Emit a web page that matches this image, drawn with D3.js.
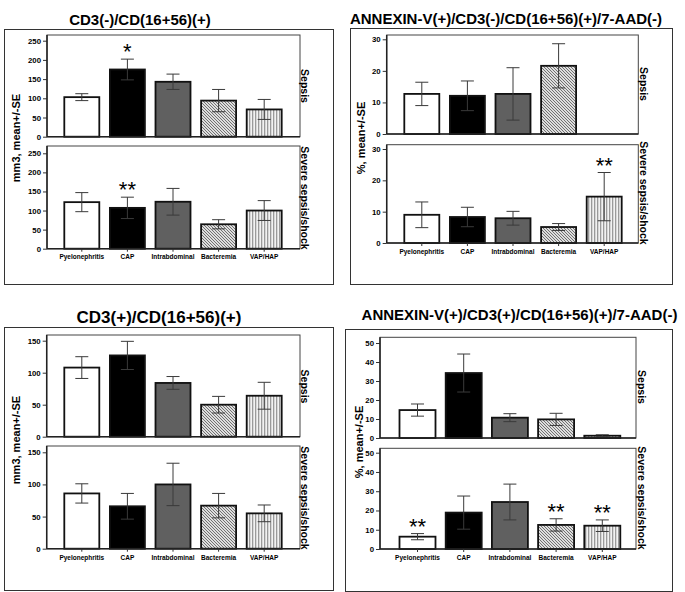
<!DOCTYPE html>
<html><head><meta charset="utf-8">
<script src="https://cdn.jsdelivr.net/npm/d3@7"></script>
<style>body{margin:0;background:#fff} svg{display:block} text{font-family:"Liberation Sans",Arial,sans-serif;fill:#000}</style>
</head><body><svg id="c" width="685" height="592"></svg>
<script>
// ---------------- data ----------------
const categories = ["Pyelonephritis","CAP","Intrabdominal","Bacteremia","VAP/HAP"];

const p1Ticks = [0,50,100,150,200,250];
const p1SepsisMean  = [103, 175, 143, 94, 71];
const p1SepsisSE    = [9, 27, 20, 29, 26];
const p1SevereMean  = [122, 107, 123, 64, 100];
const p1SevereSE    = [25, 28, 35, 12, 26];
const p1SepsisStars = [{cat:"CAP", mark:"*"}];
const p1SevereStars = [{cat:"CAP", mark:"**"}];

const p2Ticks = [0,10,20,30];
const p2SepsisMean  = [12.7, 12.1, 12.7, 21.6, null];
const p2SepsisSE    = [3.7, 4.7, 8.3, 7.0, null];
const p2SevereMean  = [9.0, 8.3, 7.9, 5.1, 14.8];
const p2SevereSE    = [4.1, 3.1, 2.2, 1.1, 7.7];
const p2SepsisStars = [];
const p2SevereStars = [{cat:"VAP/HAP", mark:"**"}];

const p3Ticks = [0,50,100,150];
const p3SepsisMean  = [108, 127, 84, 50, 64];
const p3SepsisSE    = [17, 22, 10, 13, 21];
const p3SevereMean  = [86, 66, 100, 67, 55];
const p3SevereSE    = [15, 20, 33, 19, 13];
const p3SepsisStars = [];
const p3SevereStars = [];

const p4Ticks = [0,10,20,30,40,50];
const p4SepsisMean  = [14.7, 34.2, 10.7, 9.8, 1.2];
const p4SepsisSE    = [3.2, 10.0, 2.1, 3.2, 0.5];
const p4SevereMean  = [6.4, 18.9, 24.4, 12.5, 12.1];
const p4SevereSE    = [1.6, 8.6, 9.3, 3.2, 3.0];
const p4SepsisStars = [];
const p4SevereStars = [{cat:"Pyelonephritis", mark:"**"},{cat:"Bacteremia", mark:"**"},{cat:"VAP/HAP", mark:"**"}];

// ---------------- layout ----------------
const fills = ["#ffffff","#000000","#606060","url(#diag)","url(#vert)"];

const panels = [
 {title:"CD3(-)/CD(16+56)(+)", tx:140, ty:24.5, ts:15, box:[4,29,333,284],
  x0:47, x1:300, c0:81.8, step:45.6, barW:35,
  yLabel:"mm3, mean+/-SE", ylx:16, yly:138, rx:305, ticks:p1Ticks,
  subs:[{mean:p1SepsisMean, se:p1SepsisSE, top:35, zero:136.7, tpx:40.7, label:"Sepsis", ly:86, stars:p1SepsisStars},
        {mean:p1SevereMean, se:p1SevereSE, top:146, zero:248.7, tpx:153.3, label:"Severe sepsis/shock", ly:198, stars:p1SevereStars, xl:259}]},
 {title:"ANNEXIN-V(+)/CD3(-)/CD(16+56)(+)/7-AAD(-)", tx:506, ty:24, ts:15, box:[350,28,672,284],
  x0:386.7, x1:638.3, c0:421.8, step:45.6, barW:35,
  yLabel:"%, mean+/-SE", ylx:361, yly:138, rx:644, ticks:p2Ticks,
  subs:[{mean:p2SepsisMean, se:p2SepsisSE, top:35, zero:134, tpx:39.3, label:"Sepsis", ly:84, stars:p2SepsisStars},
        {mean:p2SevereMean, se:p2SevereSE, top:144.7, zero:243, tpx:149, label:"Severe sepsis/shock", ly:193, stars:p2SevereStars, xl:253.5}]},
 {title:"CD3(+)/CD(16+56)(+)", tx:159, ty:323, ts:17, box:[4,327,333,590],
  x0:46.7, x1:300, c0:81.8, step:45.6, barW:35,
  yLabel:"mm3, mean+/-SE", ylx:16, yly:440, rx:305, ticks:p3Ticks,
  subs:[{mean:p3SepsisMean, se:p3SepsisSE, top:335, zero:436.7, tpx:340.7, label:"Sepsis", ly:386.5, stars:p3SepsisStars},
        {mean:p3SevereMean, se:p3SevereSE, top:446, zero:548.7, tpx:452.3, label:"Severe sepsis/shock", ly:498, stars:p3SevereStars, xl:559.5}]},
 {title:"ANNEXIN-V(+)/CD3(+)/CD(16+56)(+)/7-AAD(-)", tx:519.5, ty:320, ts:15, box:[345,329,672,591],
  x0:380, x1:636, c0:417.5, step:46.2, barW:36,
  yLabel:"%, mean+/-SE", ylx:359, yly:442, rx:642, ticks:p4Ticks,
  subs:[{mean:p4SepsisMean, se:p4SepsisSE, top:337.3, zero:438, tpx:343, label:"Sepsis", ly:387, stars:p4SepsisStars},
        {mean:p4SevereMean, se:p4SevereSE, top:448.3, zero:549, tpx:452.7, label:"Severe sepsis/shock", ly:498, stars:p4SevereStars, xl:559.5}]}
];

const svg = d3.select("#c");
const defs = svg.append("defs");
const diag = defs.append("pattern").attr("id","diag").attr("patternUnits","userSpaceOnUse").attr("width",3).attr("height",3);
diag.append("rect").attr("width",3).attr("height",3).attr("fill","#dedede");
diag.append("path").attr("d","M0,0L3,3M-1,2L1,4M2,-1L4,1").attr("stroke","#555").attr("stroke-width",0.8);
const vert = defs.append("pattern").attr("id","vert").attr("patternUnits","userSpaceOnUse").attr("width",3).attr("height",10);
vert.append("rect").attr("width",3).attr("height",10).attr("fill","#f2f2f2");
vert.append("rect").attr("width",1.3).attr("height",10).attr("fill","#9a9a9a");

panels.forEach(p => {
  const g = svg.append("g");
  const [bx0,by0,bx1,by1] = p.box;
  g.append("rect").attr("x",bx0+0.5).attr("y",by0+0.5).attr("width",bx1-bx0).attr("height",by1-by0)
    .attr("fill","none").attr("stroke","#333").attr("stroke-width",1);
  g.append("text").attr("x",p.tx).attr("y",p.ty).attr("text-anchor","middle")
    .attr("font-size",p.ts).attr("font-weight","bold").attr("fill","#000").text(p.title);

  const pad = 1 - p.barW/p.step;
  const x = d3.scaleBand().domain(categories)
     .range([p.c0 - p.step/2, p.c0 + p.step*4.5]).paddingInner(pad).paddingOuter(pad/2);

  g.append("text").attr("transform",`translate(${p.ylx},${p.yly}) rotate(-90)`)
    .attr("text-anchor","middle").attr("dy","0.35em").attr("font-size",11).attr("font-weight","bold")
    .attr("fill","#000").text(p.yLabel);

  p.subs.forEach(s => {
    const ymax = p.ticks[p.ticks.length-1];
    const y = d3.scaleLinear().domain([0,ymax]).range([s.zero, s.tpx]);
    const sg = g.append("g");
    sg.append("rect").attr("x",p.x0).attr("y",s.top).attr("width",p.x1-p.x0).attr("height",s.zero-s.top)
      .attr("fill","none").attr("stroke","#444").attr("stroke-width",1);
    const data = categories.map((c,i)=>({c, i, m:s.mean[i], e:s.se[i]})).filter(d=>d.m!=null);
    sg.selectAll("rect.bar").data(data).join("rect").attr("class","bar")
      .attr("x",d=>x(d.c)).attr("width",x.bandwidth())
      .attr("y",d=>y(d.m)).attr("height",d=>y(0)-y(d.m))
      .attr("fill",d=>fills[d.i]).attr("stroke","#111").attr("stroke-width",1.8);
    const eb = sg.selectAll("g.eb").data(data).join("g").attr("class","eb")
      .attr("stroke","#3a3a3a").attr("stroke-width",1);
    const cx = d => x(d.c) + x.bandwidth()/2;
    eb.append("line").attr("x1",cx).attr("x2",cx).attr("y1",d=>y(d.m-d.e)).attr("y2",d=>y(d.m+d.e));
    eb.append("line").attr("x1",d=>cx(d)-6.5).attr("x2",d=>cx(d)+6.5).attr("y1",d=>y(d.m+d.e)).attr("y2",d=>y(d.m+d.e));
    eb.append("line").attr("x1",d=>cx(d)-6.5).attr("x2",d=>cx(d)+6.5).attr("y1",d=>y(d.m-d.e)).attr("y2",d=>y(d.m-d.e));
    const ax = sg.append("g").attr("transform",`translate(${p.x0},0)`)
      .call(d3.axisLeft(y).tickValues(p.ticks).tickSize(4).tickPadding(2).tickFormat(d3.format("d")));
    ax.select(".domain").remove();
    ax.selectAll(".tick line").attr("stroke","#333");
    ax.selectAll(".tick text").attr("font-size",7.8).attr("font-weight","bold").attr("fill","#222")
      .style("font-family",'"Liberation Sans",Arial,sans-serif');
    sg.append("line").attr("x1",p.x0).attr("x2",p.x0).attr("y1",s.top).attr("y2",s.zero).attr("stroke","#222").attr("stroke-width",1.5);
    sg.append("line").attr("x1",p.x0).attr("x2",p.x1).attr("y1",s.zero).attr("y2",s.zero).attr("stroke","#222").attr("stroke-width",1.5);
    sg.append("text").attr("transform",`translate(${p.rx},${s.ly}) rotate(90)`)
      .attr("text-anchor","middle").attr("dy","0.35em").attr("font-size",10.5).attr("font-weight","bold")
      .attr("fill","#000").text(s.label);
    s.stars.forEach(st => {
      const i = categories.indexOf(st.cat);
      const top = y(s.mean[i] + s.se[i]);
      sg.append("text").attr("x",x(st.cat)+x.bandwidth()/2).attr("y",top - 12 + 12)
        .attr("text-anchor","middle").attr("font-size",22).attr("fill","#000").text(st.mark);
    });
    if (s.xl) {
      const xa = sg.append("g").attr("transform",`translate(0,${s.zero})`)
        .call(d3.axisBottom(x).tickSize(3).tickPadding(2));
      xa.select(".domain").remove();
      xa.selectAll(".tick line").attr("stroke","#333");
      xa.selectAll(".tick text").remove();
      sg.selectAll("text.cl").data(categories).join("text").attr("class","cl")
        .attr("x",c=>x(c)+x.bandwidth()/2).attr("y",s.xl).attr("text-anchor","middle")
        .attr("font-size",6.5).attr("font-weight","bold").attr("fill","#222").text(c=>c);
    }
  });
});
</script></body></html>
